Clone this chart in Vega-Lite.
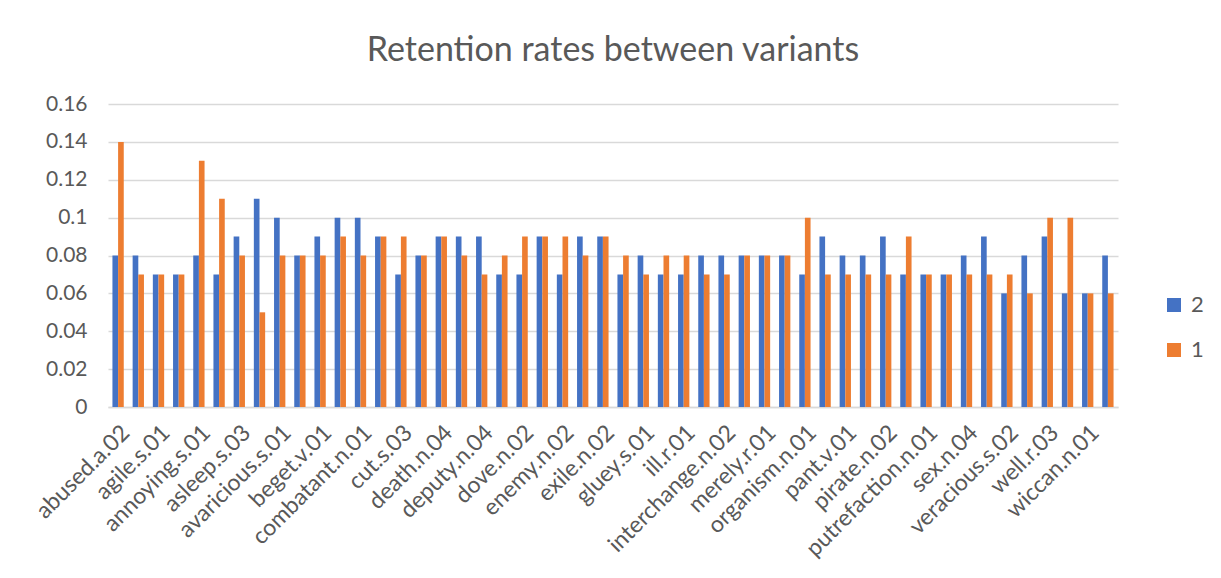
{
  "$schema": "https://vega.github.io/schema/vega-lite/v6.json",
  "autosize": "none",
  "width": 1010,
  "height": 303,
  "padding": {"left": 108, "top": 104, "right": 103, "bottom": 171},
  "background": "white",
  "config": {
    "font": "Lato",
    "view": {"stroke": null}
  },
  "title": {
    "text": "Retention rates between variants",
    "fontSize": 34,
    "fontWeight": "normal",
    "color": "#595959",
    "anchor": "middle",
    "frame": "group",
    "baseline": "alphabetic",
    "offset": -2
  },
  "data": {
    "values": [
      {"cat": "abused.a.02", "variant": "2", "rate": 0.08}, {"cat": "abused.a.02", "variant": "1", "rate": 0.14},
      {"cat": "advance.v.01", "variant": "2", "rate": 0.08}, {"cat": "advance.v.01", "variant": "1", "rate": 0.07},
      {"cat": "agile.s.01", "variant": "2", "rate": 0.07}, {"cat": "agile.s.01", "variant": "1", "rate": 0.07},
      {"cat": "allow.v.01", "variant": "2", "rate": 0.07}, {"cat": "allow.v.01", "variant": "1", "rate": 0.07},
      {"cat": "annoying.s.01", "variant": "2", "rate": 0.08}, {"cat": "annoying.s.01", "variant": "1", "rate": 0.13},
      {"cat": "arrest.v.02", "variant": "2", "rate": 0.07}, {"cat": "arrest.v.02", "variant": "1", "rate": 0.11},
      {"cat": "asleep.s.03", "variant": "2", "rate": 0.09}, {"cat": "asleep.s.03", "variant": "1", "rate": 0.08},
      {"cat": "attack.n.01", "variant": "2", "rate": 0.11}, {"cat": "attack.n.01", "variant": "1", "rate": 0.05},
      {"cat": "avaricious.s.01", "variant": "2", "rate": 0.10}, {"cat": "avaricious.s.01", "variant": "1", "rate": 0.08},
      {"cat": "bank.n.01", "variant": "2", "rate": 0.08}, {"cat": "bank.n.01", "variant": "1", "rate": 0.08},
      {"cat": "beget.v.01", "variant": "2", "rate": 0.09}, {"cat": "beget.v.01", "variant": "1", "rate": 0.08},
      {"cat": "bright.a.01", "variant": "2", "rate": 0.10}, {"cat": "bright.a.01", "variant": "1", "rate": 0.09},
      {"cat": "combatant.n.01", "variant": "2", "rate": 0.10}, {"cat": "combatant.n.01", "variant": "1", "rate": 0.08},
      {"cat": "crane.n.04", "variant": "2", "rate": 0.09}, {"cat": "crane.n.04", "variant": "1", "rate": 0.09},
      {"cat": "cut.s.03", "variant": "2", "rate": 0.07}, {"cat": "cut.s.03", "variant": "1", "rate": 0.09},
      {"cat": "dart.v.01", "variant": "2", "rate": 0.08}, {"cat": "dart.v.01", "variant": "1", "rate": 0.08},
      {"cat": "death.n.04", "variant": "2", "rate": 0.09}, {"cat": "death.n.04", "variant": "1", "rate": 0.09},
      {"cat": "deliver.v.02", "variant": "2", "rate": 0.09}, {"cat": "deliver.v.02", "variant": "1", "rate": 0.08},
      {"cat": "deputy.n.04", "variant": "2", "rate": 0.09}, {"cat": "deputy.n.04", "variant": "1", "rate": 0.07},
      {"cat": "dismiss.v.01", "variant": "2", "rate": 0.07}, {"cat": "dismiss.v.01", "variant": "1", "rate": 0.08},
      {"cat": "dove.n.02", "variant": "2", "rate": 0.07}, {"cat": "dove.n.02", "variant": "1", "rate": 0.09},
      {"cat": "drive.v.01", "variant": "2", "rate": 0.09}, {"cat": "drive.v.01", "variant": "1", "rate": 0.09},
      {"cat": "enemy.n.02", "variant": "2", "rate": 0.07}, {"cat": "enemy.n.02", "variant": "1", "rate": 0.09},
      {"cat": "estate.n.01", "variant": "2", "rate": 0.09}, {"cat": "estate.n.01", "variant": "1", "rate": 0.08},
      {"cat": "exile.n.02", "variant": "2", "rate": 0.09}, {"cat": "exile.n.02", "variant": "1", "rate": 0.09},
      {"cat": "fair.a.01", "variant": "2", "rate": 0.07}, {"cat": "fair.a.01", "variant": "1", "rate": 0.08},
      {"cat": "gluey.s.01", "variant": "2", "rate": 0.08}, {"cat": "gluey.s.01", "variant": "1", "rate": 0.07},
      {"cat": "horse.n.01", "variant": "2", "rate": 0.07}, {"cat": "horse.n.01", "variant": "1", "rate": 0.08},
      {"cat": "ill.r.01", "variant": "2", "rate": 0.07}, {"cat": "ill.r.01", "variant": "1", "rate": 0.08},
      {"cat": "insight.n.01", "variant": "2", "rate": 0.08}, {"cat": "insight.n.01", "variant": "1", "rate": 0.07},
      {"cat": "interchange.n.02", "variant": "2", "rate": 0.08}, {"cat": "interchange.n.02", "variant": "1", "rate": 0.07},
      {"cat": "letter.n.02", "variant": "2", "rate": 0.08}, {"cat": "letter.n.02", "variant": "1", "rate": 0.08},
      {"cat": "merely.r.01", "variant": "2", "rate": 0.08}, {"cat": "merely.r.01", "variant": "1", "rate": 0.08},
      {"cat": "nurse.v.01", "variant": "2", "rate": 0.08}, {"cat": "nurse.v.01", "variant": "1", "rate": 0.08},
      {"cat": "organism.n.01", "variant": "2", "rate": 0.07}, {"cat": "organism.n.01", "variant": "1", "rate": 0.10},
      {"cat": "paint.v.01", "variant": "2", "rate": 0.09}, {"cat": "paint.v.01", "variant": "1", "rate": 0.07},
      {"cat": "pant.v.01", "variant": "2", "rate": 0.08}, {"cat": "pant.v.01", "variant": "1", "rate": 0.07},
      {"cat": "pen.n.01", "variant": "2", "rate": 0.08}, {"cat": "pen.n.01", "variant": "1", "rate": 0.07},
      {"cat": "pirate.n.02", "variant": "2", "rate": 0.09}, {"cat": "pirate.n.02", "variant": "1", "rate": 0.07},
      {"cat": "present.n.01", "variant": "2", "rate": 0.07}, {"cat": "present.n.01", "variant": "1", "rate": 0.09},
      {"cat": "putrefaction.n.01", "variant": "2", "rate": 0.07}, {"cat": "putrefaction.n.01", "variant": "1", "rate": 0.07},
      {"cat": "rock.n.01", "variant": "2", "rate": 0.07}, {"cat": "rock.n.01", "variant": "1", "rate": 0.07},
      {"cat": "sex.n.04", "variant": "2", "rate": 0.08}, {"cat": "sex.n.04", "variant": "1", "rate": 0.07},
      {"cat": "tank.n.01", "variant": "2", "rate": 0.09}, {"cat": "tank.n.01", "variant": "1", "rate": 0.07},
      {"cat": "veracious.s.02", "variant": "2", "rate": 0.06}, {"cat": "veracious.s.02", "variant": "1", "rate": 0.07},
      {"cat": "virus.n.01", "variant": "2", "rate": 0.08}, {"cat": "virus.n.01", "variant": "1", "rate": 0.06},
      {"cat": "well.r.03", "variant": "2", "rate": 0.09}, {"cat": "well.r.03", "variant": "1", "rate": 0.10},
      {"cat": "whisper.v.01", "variant": "2", "rate": 0.06}, {"cat": "whisper.v.01", "variant": "1", "rate": 0.10},
      {"cat": "wiccan.n.01", "variant": "2", "rate": 0.06}, {"cat": "wiccan.n.01", "variant": "1", "rate": 0.06},
      {"cat": "yield.v.01", "variant": "2", "rate": 0.08}, {"cat": "yield.v.01", "variant": "1", "rate": 0.06}
    ]
  },
  "mark": {"type": "bar"},
  "encoding": {
    "x": {
      "field": "cat",
      "type": "nominal",
      "sort": null,
      "title": null,
      "scale": {"paddingInner": 0.44, "paddingOuter": 0.22},
      "axis": {
        "values": ["abused.a.02", "agile.s.01", "annoying.s.01", "asleep.s.03", "avaricious.s.01", "beget.v.01", "combatant.n.01", "cut.s.03", "death.n.04", "deputy.n.04", "dove.n.02", "enemy.n.02", "exile.n.02", "gluey.s.01", "ill.r.01", "interchange.n.02", "merely.r.01", "organism.n.01", "pant.v.01", "pirate.n.02", "putrefaction.n.01", "sex.n.04", "veracious.s.02", "well.r.03", "wiccan.n.01"],
        "labelAngle": -45,
        "labelFontSize": 23,
        "labelColor": "#595959",
        "labelPadding": 14,
        "labelOverlap": false,
        "labelBound": false,
        "labelLimit": 400,
        "ticks": false,
        "domainColor": "#d9d9d9",
        "domainWidth": 1.5,
        "grid": false
      }
    },
    "xOffset": {
      "field": "variant",
      "type": "nominal",
      "scale": {"domain": ["2", "1"], "paddingInner": 0, "paddingOuter": 0}
    },
    "y": {
      "field": "rate",
      "type": "quantitative",
      "title": null,
      "scale": {"domain": [0, 0.16], "nice": false},
      "axis": {
        "values": [0, 0.02, 0.04, 0.06, 0.08, 0.1, 0.12, 0.14, 0.16],
        "format": "~g",
        "labelFontSize": 21,
        "labelColor": "#595959",
        "labelPadding": 21,
        "ticks": false,
        "domain": false,
        "gridColor": "#d9d9d9",
        "gridWidth": 1.5
      }
    },
    "color": {
      "field": "variant",
      "type": "nominal",
      "scale": {"domain": ["2", "1"], "range": ["#4472C4", "#ED7D31"]},
      "legend": {
        "title": null,
        "orient": "none",
        "legendX": 1055,
        "legendY": 190,
        "symbolType": "square",
        "symbolSize": 196,
        "symbolStrokeWidth": 0,
        "labelFontSize": 22,
        "labelColor": "#595959",
        "labelOffset": 6,
        "rowPadding": 23
      }
    }
  }
}
